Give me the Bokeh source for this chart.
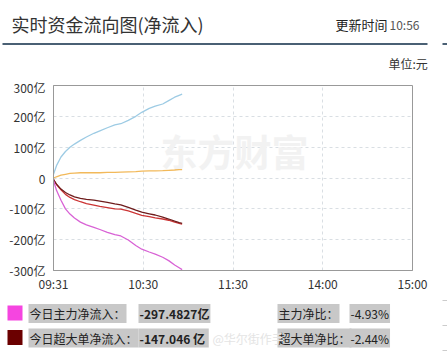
from bokeh.plotting import figure
from bokeh.layouts import column, row
from bokeh.models import Range1d, FixedTicker, Label, BoxAnnotation
from bokeh.embed import file_html
from bokeh.resources import INLINE

# ---- data (minute index from 09:30, values in 亿元) ----
minutes = [0, 2, 5, 8, 11, 14, 18, 22, 27, 31, 36, 41, 45, 50, 55, 59, 64, 68, 73, 77, 81, 84, 86]
small_net = [12, 40, 68, 86, 100, 110, 122, 133, 145, 153, 163, 172, 176, 187, 200, 213, 226, 233, 240, 251, 262, 268, 272]
medium_net = [0, 4, 9, 12, 15, 16, 17, 17, 17, 17, 18, 18, 19, 20, 21, 22, 23, 23, 24, 25, 26, 27, 27]
main_net = [-8, -40, -72, -100, -117, -130, -143, -152, -160, -167, -176, -184, -188, -201, -219, -231, -240, -247, -257, -268, -282, -291, -297]
super_net = [-5, -20, -36, -47, -55, -61, -66, -69, -72, -75, -79, -84, -87, -95, -104, -111, -116, -120, -127, -133, -140, -145, -147]
large_net = [-4, -21, -38, -53, -63, -70, -77, -83, -88, -92, -96, -100, -101, -107, -115, -121, -125, -129, -133, -137, -143, -147, -150]

x_ticks = [0, 60, 120, 180, 240]
x_tick_labels = ["09:31", "10:30", "11:30", "14:00", "15:00"]
y_ticks = [-300, -200, -100, 0, 100, 200, 300]
y_tick_labels = ["-300亿", "-200亿", "-100亿", "0", "100亿", "200亿", "300亿"]

legend_rows = [
    ("#F545E0", "今日主力净流入：", "-297.4827亿", "主力净比：", "-4.93%"),
    ("#6B0000", "今日超大单净流入：", "-147.046  亿", "超大单净比：", "-2.44%"),
]

W = 447
FONT = "Noto Sans CJK SC"
HEAD_H, MAIN_H, LEG_H = 78, 217, 57


def blank(h):
    f = figure(width=W, height=h, output_backend="svg", toolbar_location=None,
               x_range=Range1d(0, W), y_range=Range1d(h, 0),
               min_border=0, min_border_left=0, min_border_right=0,
               min_border_top=0, min_border_bottom=0)
    f.axis.visible = False
    f.grid.visible = False
    f.outline_line_color = None
    f.background_fill_color = "white"
    f.border_fill_color = "white"
    return f


def box(l, r, t, b, color):
    return BoxAnnotation(left=l, right=r, top=t, bottom=b,
                         fill_color=color, fill_alpha=1, line_color=None)


# ---------------- header ----------------
head = blank(HEAD_H)
head.add_layout(Label(x=11, y=23, text="实时资金流向图(净流入)", text_font=FONT, text_font_size="18px",
                      text_color="#333333", text_baseline="middle"))
head.add_layout(Label(x=335, y=24, text="更新时间", text_font=FONT, text_font_size="13px",
                      text_color="#222222", text_baseline="middle"))
head.add_layout(Label(x=389, y=24, text="10:56", text_font=FONT, text_font_size="12px",
                      text_color="#555555", text_baseline="middle"))
head.add_layout(box(2, 427, 42.5, 44.5, "#4A6074"))
head.add_layout(box(442, 447, 42.5, 44.5, "#4A6074"))
head.add_layout(Label(x=388, y=63, text="单位:元", text_font=FONT, text_font_size="12px",
                      text_color="#333333", text_baseline="middle"))

# ---------------- main chart ----------------
p = figure(width=W, height=MAIN_H, output_backend="svg", toolbar_location=None,
           x_range=Range1d(0, 240), y_range=Range1d(-300, 300),
           min_border_left=53, min_border_right=35, min_border_top=7, min_border_bottom=25)
p.background_fill_color = "white"
p.border_fill_color = "white"
p.outline_line_color = "#999999"
p.outline_line_width = 1

for ax in (p.xaxis[0], p.yaxis[0]):
    ax.axis_line_color = "#999999"
    ax.major_tick_line_color = None
    ax.minor_tick_line_color = None
    ax.major_tick_in = 0
    ax.major_tick_out = 0
    ax.major_label_text_font = FONT
    ax.major_label_text_font_size = "12px"
    ax.major_label_text_color = "#333333"

p.xaxis.ticker = FixedTicker(ticks=x_ticks)
p.xaxis.major_label_overrides = dict(zip(x_ticks, x_tick_labels))
p.xaxis.major_label_standoff = 4
p.yaxis.ticker = FixedTicker(ticks=y_ticks)
p.yaxis.major_label_overrides = dict(zip(y_ticks, y_tick_labels))
p.yaxis.major_label_standoff = 8

p.xgrid.grid_line_color = "#d9dee3"
p.xgrid.grid_line_dash = "3 3"
p.ygrid.grid_line_color = "#d9dee3"
p.ygrid.grid_line_dash = "3 3"

# watermark (canvas units, top-left origin of this figure)
p.add_layout(Label(x=160, y=72, x_units="canvas", y_units="canvas", text="东方财富",
                   text_font=FONT, text_font_size="37px", text_font_style="bold",
                   text_color="#f2f2f2", text_baseline="middle", level="underlay"))

p.line(minutes, small_net, line_color="#9DCBE4", line_width=1.3)
p.line(minutes, medium_net, line_color="#F2B95A", line_width=1.3)
p.line(minutes, large_net, line_color="#CC3535", line_width=1.3)
p.line(minutes, super_net, line_color="#6E1C1C", line_width=1.3)
p.line(minutes, main_net, line_color="#D862D5", line_width=1.3)

# ---------------- legend ----------------
leg = blank(LEG_H)
row_y = [18, 42.5]
for (color, lab, val, lab2, pct), yy in zip(legend_rows, row_y):
    leg.add_layout(box(7, 22, yy - 8, yy + 7, color))
    for txt, xx, bold in [(lab, 28, False), (val, 138, True), (lab2, 277, False), (pct, 349, False)]:
        leg.add_layout(Label(x=xx, y=yy, text=txt, text_font=FONT, text_font_size="12px",
                             text_font_style="bold" if bold else "normal",
                             text_color="#222222", text_baseline="middle", padding=1,
                             background_fill_color="#C8C8C8", background_fill_alpha=1))
leg.add_layout(Label(x=212, y=42.5, text="@华尔街作手", text_font=FONT, text_font_size="12px",
                     text_color="#e4e4e4", text_baseline="middle"))
for yy in [5, 30, 55]:
    leg.add_layout(box(442, 447, yy - 0.5, yy + 0.5, "#cccccc"))

layout = column(row(head), row(p), row(leg), spacing=0)
open("out.html", "w").write(file_html(layout, INLINE))
